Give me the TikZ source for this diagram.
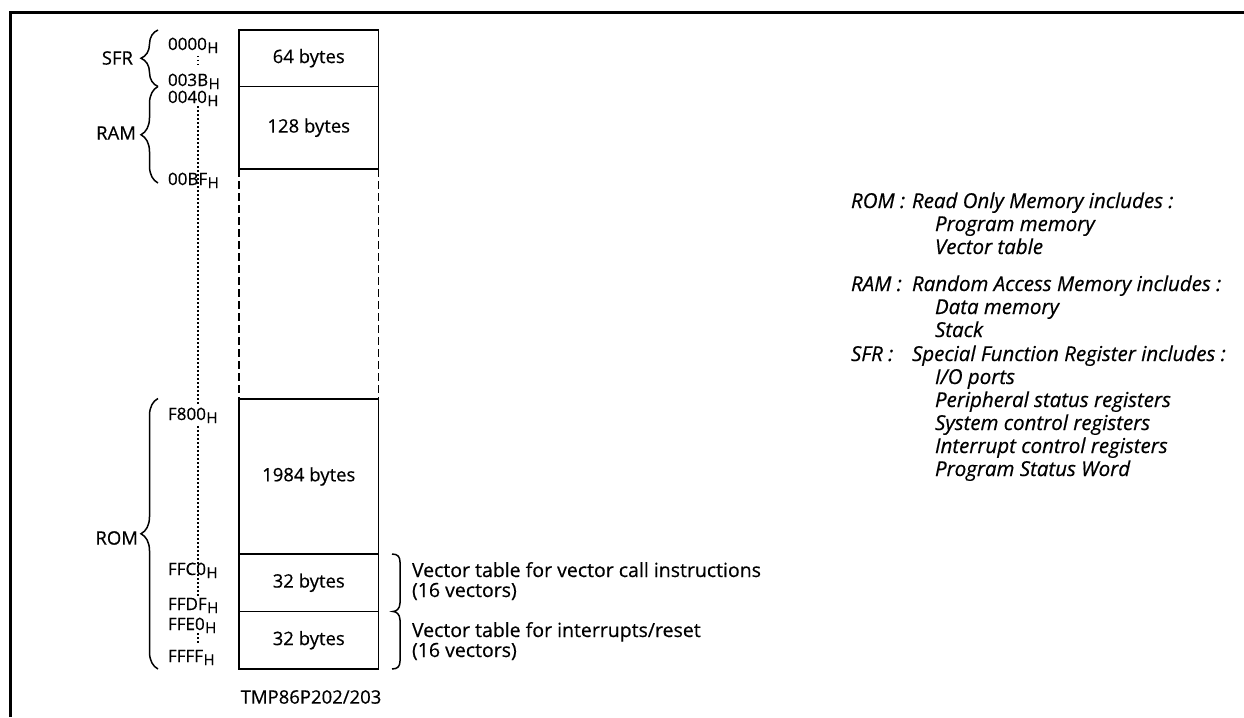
\documentclass[tikz,border=0pt]{standalone}
\usepackage{fontspec}
\setmainfont{Open Sans}[FakeBold=0.5]
\usetikzlibrary{decorations.pathreplacing}
\newcommand\addr[1]{#1\kern0.5pt\raisebox{-0.35ex}{\fontsize{15}{15}\selectfont H}}
\begin{document}
\begin{tikzpicture}[x=1pt,y=-1pt,
  every node/.style={inner sep=0pt, outer sep=0pt, font=\fontsize{18.5}{20}\selectfont},
  mem/.style={draw, line width=1.6pt, minimum width=139.5pt},
  gap/.style={line width=1.6pt, dash pattern=on 8pt off 4pt},
  dots/.style={line width=1.5pt, dash pattern=on 1.5pt off 2.5pt},
  lbrace/.style={line width=1.5pt, decorate, decoration={brace, amplitude=17pt}},
  adr/.style={anchor=base west, font=\fontsize{17}{18}\selectfont},
  vtxt/.style={anchor=base west, font=\fontsize{19.5}{20}\selectfont},
  leg/.style={anchor=base west, font=\fontsize{20.5}{22}\selectfont\itshape},
  frame/.style={line width=2.6pt}]
\useasboundingbox (0,0) rectangle (1244,717);
\draw[frame] (10.7,717) -- (10.7,12.7) -- (1244,12.7);

% memory blocks
\node[mem, minimum height=56.5pt] (sfr) at (308.75,58.25) {64 bytes};
\node[mem, minimum height=82.5pt] (ram) at (308.75,127.75) {128 bytes};
\node[mem, minimum height=155pt] (rom) at (308.75,476.5) {1984 bytes};
\node[mem, minimum height=57.5pt] (vc) at (308.75,582.75) {32 bytes};
\node[mem, minimum height=57.5pt] (vi) at (308.75,640.25) {32 bytes};
\draw[gap] (ram.south west) -- (rom.north west);
\draw[gap] (ram.south east) -- (rom.north east);
\node (chip) at (311,697) {TMP86P202/203};

% addresses
\node[adr] (a0) at (168,50) {\addr{0000}};
\node[adr] (a1) at (168,86) {\addr{003B}};
\node[adr] (a2) at (168,103) {\addr{0040}};
\node[adr] (a3) at (168,185) {\addr{00BF}};
\node[adr] (a4) at (168,420) {\addr{F800}};
\node[adr] (a5) at (168,575) {\addr{FFC0}};
\node[adr] (a6) at (168,610) {\addr{FFDF}};
\node[adr] (a7) at (168,630) {\addr{FFE0}};
\node[adr] (a8) at (168,662) {\addr{FFFF}};
\coordinate (d0) at (198,56);  \coordinate (d1) at (198,66);
\coordinate (d2) at (198,106); \coordinate (d3) at (198,404);
\coordinate (d4) at (198,426); \coordinate (d5) at (198,596);
\coordinate (d6) at (198,633); \coordinate (d7) at (198,645);
\draw[dots] (d0) -- (d1);
\draw[dots] (d2) -- (d3);
\draw[dots] (d4) -- (d5);
\draw[dots] (d6) -- (d7);

% left braces and area names
\draw[lbrace] (158,86.5) -- (158,30);
\draw[lbrace] (158,183) -- (158,86.5);
\draw[lbrace] (158,669) -- (158,398.5);
\node[anchor=east] (nsfr) at (133,58) {SFR};
\node[anchor=east] (nram) at (136,133) {RAM};
\node[anchor=east] (nrom) at (138,538) {ROM};

% right brace
\draw[line width=1.5pt] (392,554) .. controls (398,554) and (400,557) .. (400,562)
  -- (400,603) .. controls (400,609) and (396,611.5) .. (393,611.5)
  .. controls (396,611.5) and (400,614) .. (400,620)
  -- (400,661) .. controls (400,666) and (398,669) .. (392,669);
\node[vtxt] (t1) at (412,577) {Vector table for vector call instructions};
\node[vtxt] (t2) at (412,597) {(16 vectors)};
\node[vtxt] (t3) at (412,637) {Vector table for interrupts/reset};
\node[vtxt] (t4) at (412,657) {(16 vectors)};

% legend
\node[leg] (l1) at (851,208) {ROM :};
\node[leg] (l1b) at (912,208) {Read Only Memory includes :};
\node[leg] (l2) at (935,231) {Program memory};
\node[leg] (l3) at (935,254) {Vector table};
\node[leg] (l4) at (851,291) {RAM :};
\node[leg] (l4b) at (912,291) {Random Access Memory includes :};
\node[leg] (l5) at (935,314) {Data memory};
\node[leg] (l6) at (935,337) {Stack};
\node[leg] (l7) at (851,361) {SFR :};
\node[leg] (l7b) at (912,361) {Special Function Register includes :};
\node[leg] (l8) at (935,384) {I/O ports};
\node[leg] (l9) at (935,407) {Peripheral status registers};
\node[leg] (l10) at (935,430) {System control registers};
\node[leg] (l11) at (935,453) {Interrupt control registers};
\node[leg] (l12) at (935,476) {Program Status Word};
\end{tikzpicture}
\end{document}
